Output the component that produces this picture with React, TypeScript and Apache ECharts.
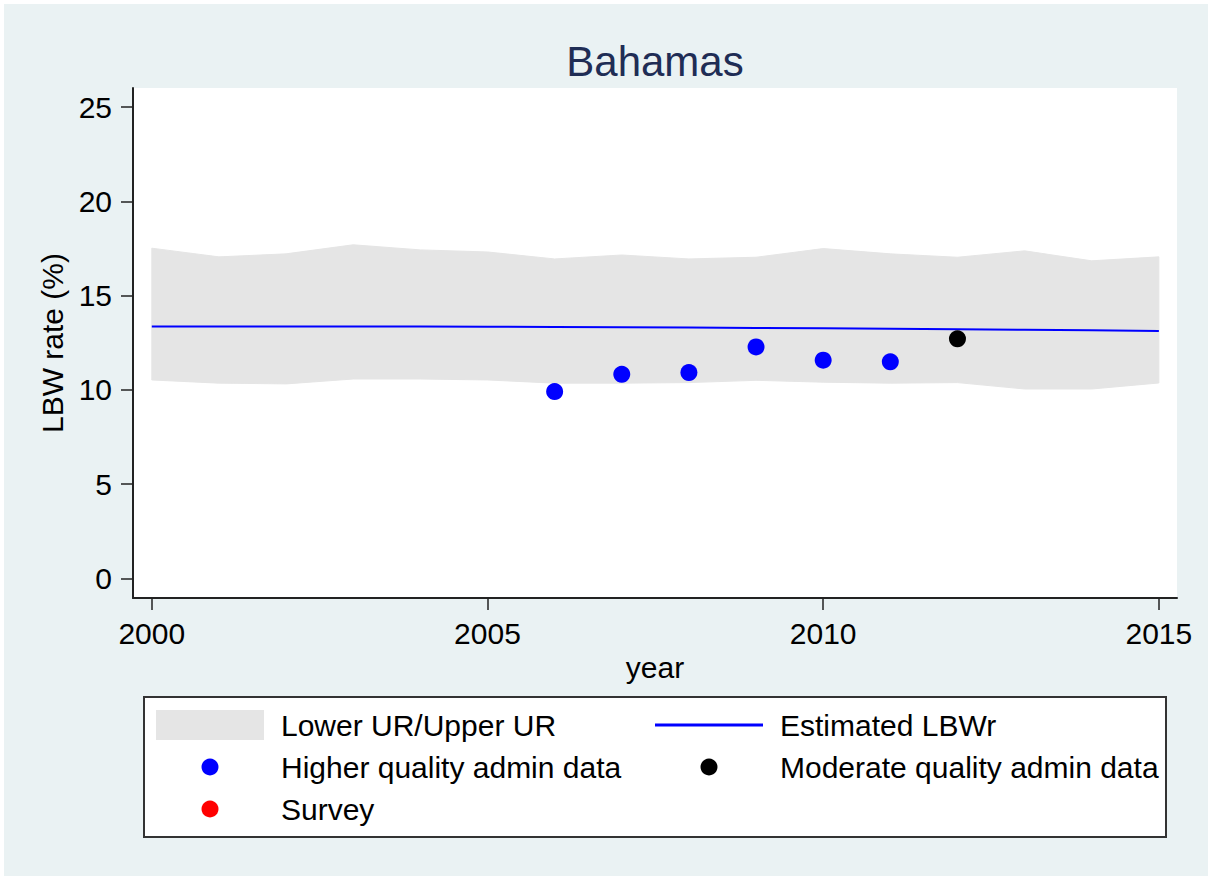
import React, { useEffect, useRef } from "react";
import * as echarts from "echarts";

const years = [2000, 2001, 2002, 2003, 2004, 2005, 2006, 2007, 2008, 2009, 2010, 2011, 2012, 2013, 2014, 2015];
const upperUR = [17.52, 17.06, 17.22, 17.7, 17.43, 17.32, 16.95, 17.16, 16.95, 17.04, 17.5, 17.22, 17.04, 17.38, 16.85, 17.06];
const lowerUR = [10.53, 10.36, 10.32, 10.58, 10.58, 10.53, 10.36, 10.36, 10.39, 10.51, 10.41, 10.36, 10.39, 10.05, 10.05, 10.37];
const estimated = [13.37, 13.37, 13.36, 13.36, 13.36, 13.35, 13.34, 13.33, 13.31, 13.29, 13.27, 13.25, 13.22, 13.19, 13.16, 13.13];

const higherYears = [2006, 2007, 2008, 2009, 2010, 2011];
const higherValues = [9.91, 10.83, 10.92, 12.28, 11.58, 11.49];
const moderateYears = [2012];
const moderateValues = [12.71];
const surveyYears: number[] = [];
const surveyValues: number[] = [];

const xTickValues = [2000, 2005, 2010, 2015];
const yTickValues = [0, 5, 10, 15, 20, 25];
const xRange = { min: 1999.72, max: 2015.27 };
const yRange = { min: -1.04, max: 26.02 };

const titleText = "Bahamas";
const yAxisTitle = "LBW rate (%)";
const xAxisTitle = "year";
const legendLabels = [
  "Lower UR/Upper UR",
  "Estimated LBWr",
  "Higher quality admin data",
  "Moderate quality admin data",
  "Survey",
];

const FONT = '"Liberation Sans", Arial, Helvetica, sans-serif';
const BAND = "#e5e5e5";
const BLUE = "#0000ff";

export default function App() {
  const ref = useRef<HTMLDivElement>(null);

  useEffect(() => {
    document.body.style.margin = "0";
    if (!ref.current) return;
    const chart = echarts.init(ref.current, undefined, { renderer: "svg" });

    const pair = (xs: number[], ys: number[]) => xs.map((x, i) => [x, ys[i]]);

    const legendText = (x: number, y: number, text: string) => ({
      type: "text",
      x,
      y,
      style: { text, fill: "#000", font: `30px ${FONT}`, textVerticalAlign: "middle", verticalAlign: "middle" },
    });

    const option: any = {
      animation: false,
      backgroundColor: "#eaf2f3",
      textStyle: { fontFamily: FONT },
      grid: { left: 133, right: 31, top: 88, bottom: 278, show: true, backgroundColor: "#ffffff", borderWidth: 0 },
      xAxis: {
        type: "value",
        min: xRange.min,
        max: xRange.max,
        axisLine: { show: true, onZero: false, lineStyle: { color: "#222", width: 2 } },
        axisTick: { show: true, length: 12, customValues: xTickValues, lineStyle: { color: "#222", width: 1.5 } },
        axisLabel: {
          fontSize: 30,
          color: "#000",
          margin: 20,
          fontFamily: FONT,
          customValues: xTickValues,
          formatter: (v: number) => String(Math.round(v)),
        },
        splitLine: { show: false },
        name: xAxisTitle,
        nameLocation: "middle",
        nameGap: 50,
        nameTextStyle: { fontSize: 30, color: "#000", fontFamily: FONT },
      },
      yAxis: {
        type: "value",
        min: yRange.min,
        max: yRange.max,
        axisLine: { show: true, onZero: false, lineStyle: { color: "#222", width: 2 } },
        axisTick: { show: true, length: 12, customValues: yTickValues, lineStyle: { color: "#222", width: 1.5 } },
        axisLabel: {
          fontSize: 30,
          color: "#000",
          margin: 21,
          fontFamily: FONT,
          customValues: yTickValues,
          formatter: (v: number) => String(Math.round(v)),
        },
        splitLine: { show: false },
        name: yAxisTitle,
        nameLocation: "middle",
        nameRotate: 90,
        nameGap: 61,
        nameTextStyle: { fontSize: 30, color: "#000", fontFamily: FONT },
      },
      series: [
        {
          type: "custom",
          name: legendLabels[0],
          z: 1,
          data: [[years[0], lowerUR[0]]],
          renderItem: (_params: any, api: any) => {
            const top = years.map((y, i) => api.coord([y, upperUR[i]]));
            const bottom = years.map((y, i) => api.coord([y, lowerUR[i]])).reverse();
            return {
              type: "polygon",
              shape: { points: top.concat(bottom) },
              style: { fill: BAND, stroke: BAND, lineWidth: 1 },
            };
          },
        },
        {
          type: "line",
          name: legendLabels[1],
          z: 3,
          data: pair(years, estimated),
          showSymbol: false,
          symbol: "none",
          lineStyle: { color: BLUE, width: 2 },
        },
        {
          type: "scatter",
          name: legendLabels[2],
          z: 4,
          data: pair(higherYears, higherValues),
          symbol: "circle",
          symbolSize: 17,
          itemStyle: { color: BLUE, opacity: 1 },
        },
        {
          type: "scatter",
          name: legendLabels[3],
          z: 4,
          data: pair(moderateYears, moderateValues),
          symbol: "circle",
          symbolSize: 17,
          itemStyle: { color: "#000", opacity: 1 },
        },
        {
          type: "scatter",
          name: legendLabels[4],
          z: 4,
          data: pair(surveyYears, surveyValues),
          symbol: "circle",
          symbolSize: 17,
          itemStyle: { color: "#ff0000", opacity: 1 },
        },
      ],
      graphic: [
        { type: "rect", shape: { x: 0, y: 0, width: 1208, height: 4 }, style: { fill: "#fff" }, silent: true },
        { type: "rect", shape: { x: 0, y: 0, width: 4, height: 876 }, style: { fill: "#fff" }, silent: true },
        {
          type: "text",
          x: 655,
          y: 61,
          style: {
            text: titleText,
            fill: "#1f2d55",
            font: `42px ${FONT}`,
            textAlign: "center",
            align: "center",
            verticalAlign: "middle",
            textVerticalAlign: "middle",
          },
        },
        {
          type: "rect",
          shape: { x: 144, y: 697, width: 1022, height: 140 },
          style: { fill: "#fff", stroke: "#333", lineWidth: 2 },
        },
        { type: "rect", shape: { x: 156, y: 710, width: 108, height: 30 }, style: { fill: BAND } },
        legendText(281, 725, legendLabels[0]),
        { type: "line", shape: { x1: 655, y1: 725, x2: 763, y2: 725 }, style: { stroke: BLUE, lineWidth: 3 } },
        legendText(780, 725, legendLabels[1]),
        { type: "circle", shape: { cx: 210, cy: 767, r: 8.5 }, style: { fill: BLUE } },
        legendText(281, 767, legendLabels[2]),
        { type: "circle", shape: { cx: 709, cy: 767, r: 8.5 }, style: { fill: "#000" } },
        legendText(780, 767, legendLabels[3]),
        { type: "circle", shape: { cx: 210, cy: 809, r: 8.5 }, style: { fill: "#ff0000" } },
        legendText(281, 809, legendLabels[4]),
      ],
    };

    chart.setOption(option);
    return () => chart.dispose();
  }, []);

  return <div ref={ref} style={{ width: 1208, height: 876 }} />;
}
